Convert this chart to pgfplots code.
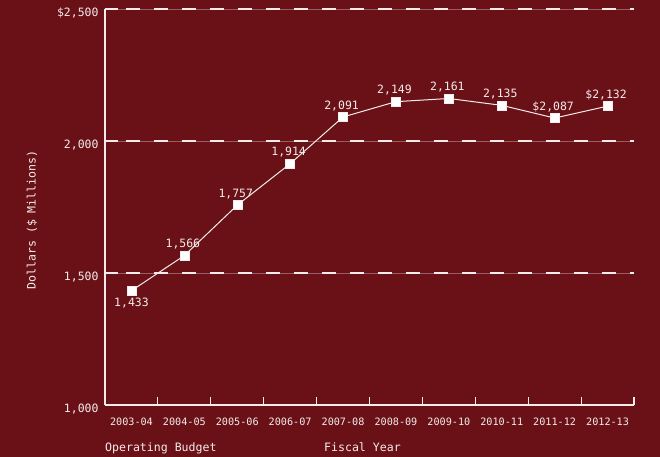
\documentclass[border=0pt]{standalone}
\usepackage{pgfplots}
\pgfplotsset{compat=1.18}
\usepackage{fontspec}
\setmainfont{DejaVu Sans Mono}
\setmonofont{DejaVu Sans Mono}
\definecolor{bg}{HTML}{6A1117}
\definecolor{fg}{HTML}{F4ECEC}
\begin{document}
\begin{tikzpicture}
\useasboundingbox (0,0) rectangle (660bp,457bp);
\fill[bg] (0,0) rectangle (660bp,457bp);
\begin{axis}[
  at={(105bp,52bp)}, anchor=south west,
  scale only axis, width=529bp, height=396bp,
  xmin=-0.5, xmax=9.5, ymin=1000, ymax=2500,
  axis x line=bottom, axis y line=left,
  axis line style={-, fg, line width=1.1bp},
  xtick={0,...,9},
  xticklabels={2003-04,2004-05,2005-06,2006-07,2007-08,2008-09,2009-10,2010-11,2011-12,2012-13},
  minor xtick={-0.5,0.5,...,9.5},
  major x tick style={draw=none},
  minor tick length=8bp,
  major tick length=13bp,
  tick align=inside,
  tick style={fg, line width=1.1bp},
  ytick={1000,1500,2000,2500},
  yticklabels={{1,000},{1,500},{2,000},{\$2,500}},
  ticklabel style={text=fg},
  xticklabel style={font=\fontsize{10.2}{12}\selectfont, yshift=-9bp},
  yticklabel style={font=\fontsize{11.5}{13}\selectfont, yshift=-4bp, xshift=-3bp},
  ymajorgrids,
  major grid style={fg, line width=1.3bp, dash pattern=on 14bp off 14bp, dash phase=7bp,
     preaction={draw, fg, opacity=0.35, line width=0.6bp, solid}},
  clip=false,
]
\addplot[fg, line width=1bp, mark=square*, mark size=4.5bp, mark options={fill=white, draw=fg, line width=0.4bp}]
  coordinates {(0,1433)(1,1566)(2,1757)(3,1914)(4,2091)(5,2149)(6,2161)(7,2135)(8,2087)(9,2132)};
\addplot[draw=none, nodes near coords, point meta=explicit symbolic,
  every node near coord/.append style={font=\fontsize{11.5}{13}\selectfont, text=fg, anchor=south, inner sep=0pt, yshift=6bp, xshift=-1.5bp}]
  coordinates {(1,1566)[1,566](2,1757)[1,757](3,1914)[1,914](4,2091)[2,091](5,2149)[2,149](6,2161)[2,161](7,2135)[2,135](8,2087)[\$2,087](9,2132)[\$2,132]};
\addplot[draw=none, nodes near coords, point meta=explicit symbolic,
  every node near coord/.append style={font=\fontsize{11.5}{13}\selectfont, text=fg, anchor=north, inner sep=0pt, yshift=-7bp}]
  coordinates {(0,1433)[1,433]};
\end{axis}
\node[anchor=base west, text=fg, font=\fontsize{11.6}{13}\selectfont, inner sep=0pt] at (105bp,6bp) {Operating Budget};
\node[anchor=base west, text=fg, font=\fontsize{11.6}{13}\selectfont, inner sep=0pt] at (324bp,6bp) {Fiscal Year};
\node[rotate=90, text=fg, font=\fontsize{11.6}{13}\selectfont, inner sep=0pt] at (32bp,237bp) {Dollars (\$ Millions)};
\end{tikzpicture}
\end{document}
